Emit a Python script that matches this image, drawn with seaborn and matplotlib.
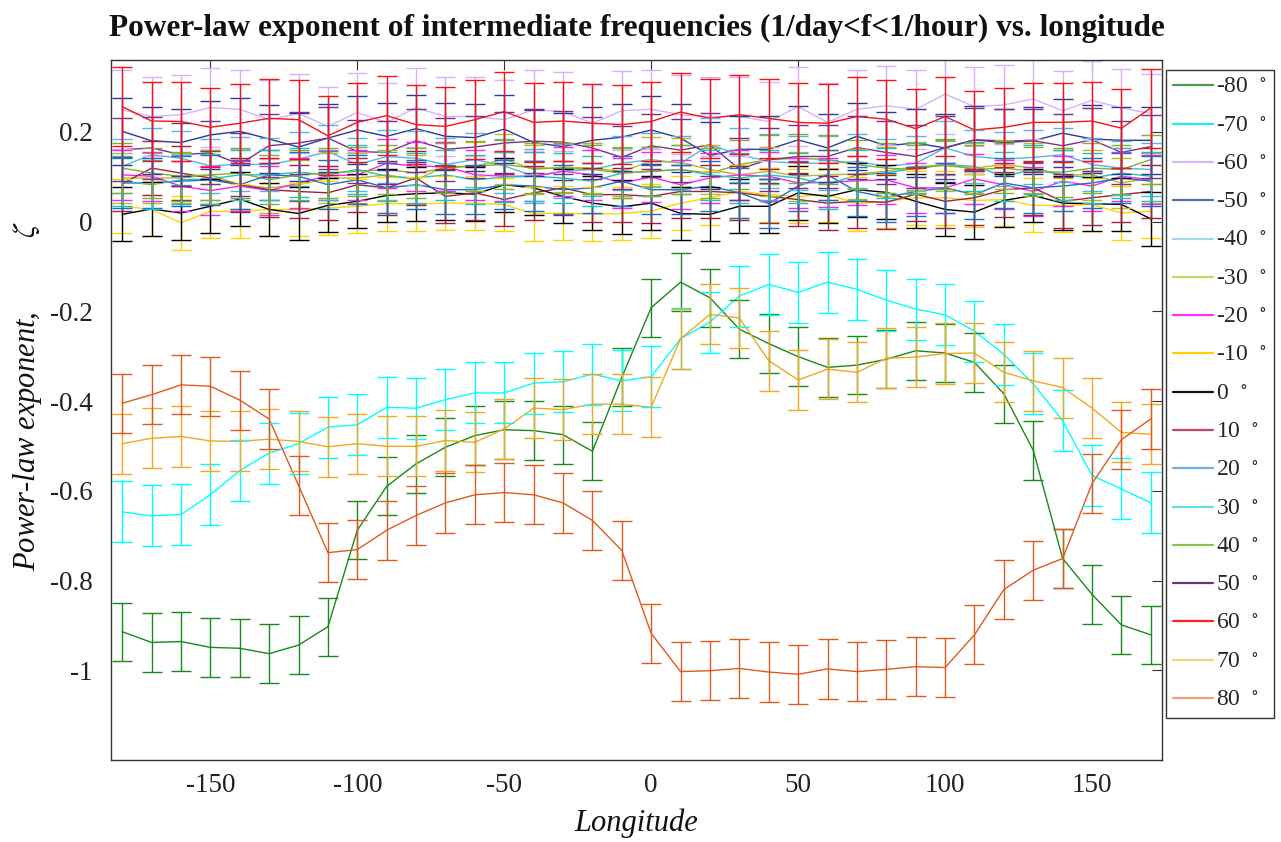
import numpy as np
import pandas as pd
import matplotlib
matplotlib.use("Agg")
import matplotlib.pyplot as plt
from matplotlib.lines import Line2D
import seaborn as sns

# ---------------- data ----------------
lons = list(range(-180, 180, 10))
lat_labels = ["-80", "-70", "-60", "-50", "-40", "-30", "-20", "-10", "0",
              "10", "20", "30", "40", "50", "60", "70", "80"]

z_m80 = [-0.914, -0.938, -0.936, -0.949, -0.951, -0.963, -0.944, -0.903, -0.688, -0.590,
         -0.540, -0.503, -0.477, -0.464, -0.466, -0.475, -0.512, -0.347, -0.192, -0.135,
         -0.170, -0.240, -0.272, -0.301, -0.325, -0.320, -0.307, -0.288, -0.293, -0.314,
         -0.384, -0.510, -0.751, -0.831, -0.899, -0.921]
z_m70 = [-0.647, -0.656, -0.653, -0.609, -0.555, -0.516, -0.495, -0.458, -0.453, -0.414,
         -0.416, -0.397, -0.382, -0.382, -0.360, -0.357, -0.340, -0.355, -0.346, -0.261,
         -0.224, -0.166, -0.140, -0.158, -0.135, -0.151, -0.175, -0.195, -0.208, -0.244,
         -0.296, -0.362, -0.444, -0.566, -0.596, -0.627]
z_m60 = [0.249, 0.234, 0.238, 0.254, 0.250, 0.227, 0.241, 0.212, 0.243, 0.221,
         0.254, 0.234, 0.234, 0.227, 0.249, 0.245, 0.219, 0.247, 0.250, 0.238,
         0.234, 0.234, 0.223, 0.256, 0.221, 0.250, 0.258, 0.250, 0.284, 0.256,
         0.260, 0.273, 0.247, 0.270, 0.253, 0.241]
z_m50 = [0.201, 0.180, 0.176, 0.193, 0.201, 0.184, 0.166, 0.186, 0.204, 0.190,
         0.207, 0.190, 0.187, 0.206, 0.176, 0.167, 0.181, 0.188, 0.204, 0.186,
         0.147, 0.161, 0.161, 0.182, 0.164, 0.190, 0.169, 0.175, 0.164, 0.182,
         0.176, 0.180, 0.197, 0.184, 0.181, 0.181]
z_m40 = [0.123, 0.149, 0.141, 0.124, 0.128, 0.127, 0.139, 0.156, 0.127, 0.145,
         0.141, 0.127, 0.138, 0.124, 0.101, 0.112, 0.116, 0.130, 0.138, 0.130,
         0.171, 0.149, 0.134, 0.130, 0.130, 0.134, 0.123, 0.130, 0.164, 0.145,
         0.139, 0.143, 0.149, 0.127, 0.119, 0.116]
z_m30 = [0.097, 0.097, 0.097, 0.104, 0.082, 0.075, 0.082, 0.097, 0.097, 0.104,
         0.093, 0.123, 0.123, 0.139, 0.116, 0.121, 0.119, 0.112, 0.134, 0.132,
         0.116, 0.104, 0.112, 0.101, 0.104, 0.106, 0.112, 0.123, 0.124, 0.119,
         0.127, 0.119, 0.104, 0.104, 0.086, 0.097]
z_m20 = [0.104, 0.101, 0.079, 0.069, 0.079, 0.069, 0.086, 0.102, 0.104, 0.130,
         0.123, 0.123, 0.104, 0.101, 0.101, 0.112, 0.104, 0.086, 0.099, 0.082,
         0.097, 0.104, 0.101, 0.086, 0.087, 0.091, 0.093, 0.075, 0.075, 0.095,
         0.082, 0.067, 0.090, 0.079, 0.101, 0.093]
z_m10 = [0.034, 0.027, -0.003, 0.023, 0.023, 0.027, 0.027, 0.030, 0.034, 0.040,
         0.039, 0.041, 0.041, 0.038, 0.017, 0.019, 0.016, 0.018, 0.023, 0.041,
         0.053, 0.067, 0.060, 0.056, 0.060, 0.040, 0.045, 0.053, 0.053, 0.047,
         0.049, 0.036, 0.036, 0.038, 0.019, 0.023]
z_0 = [0.016, 0.028, 0.019, 0.034, 0.050, 0.027, 0.018, 0.036, 0.045, 0.058,
       0.062, 0.064, 0.061, 0.082, 0.075, 0.056, 0.041, 0.033, 0.041, 0.018,
       0.016, 0.034, 0.034, 0.064, 0.056, 0.071, 0.065, 0.045, 0.027, 0.021,
       0.047, 0.058, 0.041, 0.040, 0.038, 0.006]
z_10 = [0.084, 0.119, 0.108, 0.097, 0.082, 0.071, 0.067, 0.064, 0.082, 0.075,
        0.097, 0.056, 0.064, 0.049, 0.064, 0.075, 0.060, 0.060, 0.056, 0.067,
        0.067, 0.064, 0.056, 0.049, 0.041, 0.045, 0.043, 0.061, 0.045, 0.053,
        0.071, 0.075, 0.045, 0.053, 0.060, 0.067]
z_20 = [0.086, 0.086, 0.090, 0.093, 0.082, 0.104, 0.101, 0.082, 0.093, 0.075,
        0.082, 0.071, 0.071, 0.082, 0.079, 0.071, 0.075, 0.090, 0.071, 0.071,
        0.079, 0.064, 0.040, 0.079, 0.104, 0.067, 0.054, 0.067, 0.075, 0.060,
        0.086, 0.075, 0.079, 0.086, 0.097, 0.090]
z_30 = [0.090, 0.082, 0.093, 0.095, 0.104, 0.104, 0.110, 0.104, 0.116, 0.101,
        0.097, 0.104, 0.093, 0.099, 0.101, 0.097, 0.090, 0.108, 0.112, 0.116,
        0.104, 0.097, 0.104, 0.097, 0.082, 0.104, 0.108, 0.119, 0.127, 0.123,
        0.101, 0.116, 0.104, 0.097, 0.108, 0.101]
z_40 = [0.119, 0.108, 0.101, 0.104, 0.108, 0.093, 0.104, 0.108, 0.112, 0.116,
        0.108, 0.119, 0.124, 0.127, 0.119, 0.119, 0.116, 0.108, 0.112, 0.116,
        0.108, 0.127, 0.138, 0.141, 0.138, 0.127, 0.119, 0.116, 0.128, 0.116,
        0.119, 0.112, 0.110, 0.119, 0.116, 0.138]
z_50 = [0.160, 0.164, 0.149, 0.153, 0.128, 0.169, 0.175, 0.186, 0.156, 0.154,
        0.180, 0.161, 0.166, 0.175, 0.179, 0.177, 0.164, 0.143, 0.169, 0.159,
        0.171, 0.117, 0.138, 0.145, 0.145, 0.165, 0.154, 0.145, 0.165, 0.182,
        0.180, 0.180, 0.169, 0.182, 0.154, 0.167]
z_60 = [0.256, 0.224, 0.223, 0.210, 0.219, 0.230, 0.227, 0.191, 0.221, 0.236,
        0.216, 0.212, 0.227, 0.245, 0.221, 0.224, 0.219, 0.216, 0.223, 0.244,
        0.230, 0.238, 0.230, 0.221, 0.219, 0.234, 0.228, 0.207, 0.234, 0.204,
        0.210, 0.221, 0.221, 0.224, 0.208, 0.253]
z_70 = [-0.495, -0.483, -0.479, -0.489, -0.490, -0.485, -0.490, -0.502, -0.495, -0.501,
        -0.501, -0.488, -0.492, -0.462, -0.416, -0.419, -0.407, -0.407, -0.414, -0.261,
        -0.207, -0.215, -0.310, -0.353, -0.329, -0.336, -0.305, -0.302, -0.294, -0.293,
        -0.336, -0.355, -0.370, -0.416, -0.470, -0.474]
z_80 = [-0.405, -0.386, -0.364, -0.367, -0.398, -0.440, -0.588, -0.738, -0.731, -0.688,
        -0.655, -0.627, -0.609, -0.604, -0.609, -0.627, -0.666, -0.733, -0.918, -1.003,
        -1.001, -0.996, -1.004, -1.009, -0.997, -1.003, -0.998, -0.992, -0.994, -0.921,
        -0.820, -0.777, -0.751, -0.584, -0.486, -0.440]

series = [z_m80, z_m70, z_m60, z_m50, z_m40, z_m30, z_m20, z_m10, z_0,
          z_10, z_20, z_30, z_40, z_50, z_60, z_70, z_80]
# half-width of the error bars (one value read per series)
errs = [0.065, 0.068, 0.088, 0.075, 0.060, 0.055, 0.055, 0.060, 0.060,
        0.060, 0.055, 0.055, 0.055, 0.070, 0.088, 0.067, 0.066]

line_colors = ["#1a8a1a", "#00ffff", "#d8b0ff", "#2a3a9a", "#50b8e8", "#b8b820",
               "#ff20ff", "#ffd200", "#000000", "#a02040", "#1a70c8", "#20c0c0",
               "#80b030", "#7a3090", "#ff1010", "#f0a820", "#e05a20"]
legend_colors = ["#4a9a4a", "#20e8f0", "#d8b8f8", "#5868a8", "#a0d8f0", "#d0d060",
                 "#ff30ff", "#ffd000", "#101010", "#c04860", "#70b0e0", "#60e0e0",
                 "#90c050", "#703080", "#ff2020", "#f8d080", "#f0a080"]

# ---------------- style ----------------
sns.set_theme(style="white")
plt.rcParams["font.family"] = ["Liberation Serif", "DejaVu Serif"]
plt.rcParams["mathtext.fontset"] = "stix"

df = pd.DataFrame({
    "lon": np.tile(lons, len(series)),
    "zeta": np.concatenate([np.asarray(s) for s in series]),
    "lat": np.repeat(lat_labels, len(lons)),
})

fig = plt.figure(figsize=(12.81, 8.42), dpi=100)
ax = fig.add_axes([111 / 1281, (842 - 760) / 842, (1162 - 111) / 1281, (760 - 60) / 842])

palette = dict(zip(lat_labels, line_colors))
sns.lineplot(data=df, x="lon", y="zeta", hue="lat", hue_order=lat_labels,
             palette=palette, linewidth=1.0, legend=False, ax=ax,
             estimator=None, sort=False)

for s, e, c in zip(series, errs, line_colors):
    ax.errorbar(lons, s, yerr=e, fmt="none", ecolor=c, elinewidth=1.0,
                capsize=7.5, capthick=1.0)

ax.set_xlim(-183.8, 173.8)
ax.set_ylim(-1.2, 0.36)
ax.set_xticks([-150, -100, -50, 0, 50, 100, 150])
ax.set_xticklabels(["-150", "-100", "-50", "0", "50", "100", "150"])
ax.set_yticks([-1, -0.8, -0.6, -0.4, -0.2, 0, 0.2])
ax.set_yticklabels(["-1", "-0.8", "-0.6", "-0.4", "-0.2", "0", "0.2"])
ax.tick_params(direction="in", length=7, width=0.8, colors="#333333",
               labelcolor="#222222", labelsize=19.5, top=True, right=True)
ax.tick_params(axis="y", pad=13)
ax.tick_params(axis="x", pad=9)
for sp in ax.spines.values():
    sp.set_color("#333333")
    sp.set_linewidth(1.0)

ax.set_xlabel("Longitude", fontsize=22, style="italic", labelpad=8, color="#111111")
ax.set_ylabel(r"Power-law exponent, $\quad\quad\quad\zeta$", fontsize=22, style="italic",
              color="#111111")
ax.yaxis.set_label_coords(-0.064, 0.52)
ax.set_title("Power-law exponent of intermediate frequencies (1/day<f<1/hour) vs. longitude",
             fontsize=22.5, fontweight="bold", pad=17, color="#111111")

handles = [Line2D([0], [0], color=c, lw=1.6) for c in legend_colors]
labels = [lab + r"  $^{\circ}$" for lab in lat_labels]
leg = ax.legend(handles, labels, loc="upper left",
                bbox_to_anchor=(1166 / 1281, 1 - 70 / 842),
                bbox_transform=fig.transFigure, fontsize=17, frameon=True,
                fancybox=False, framealpha=1, edgecolor="#333333",
                handlelength=1.7, handletextpad=0.12, labelspacing=0.71,
                borderpad=0.3, borderaxespad=0.0)
leg.get_frame().set_linewidth(1.0)

fig.savefig("out.png", dpi=100)
